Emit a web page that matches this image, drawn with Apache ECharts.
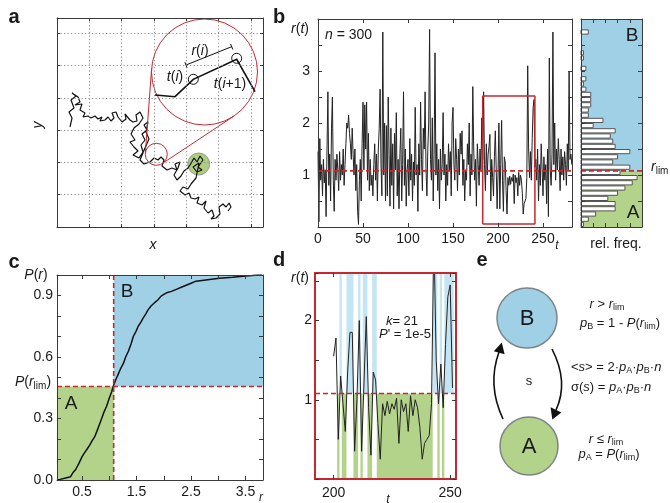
<!DOCTYPE html>
<html><head><meta charset="utf-8">
<script src="https://cdn.jsdelivr.net/npm/echarts@6/dist/echarts.min.js"></script>
<style>html,body{margin:0;padding:0;background:#fff}#c{width:670px;height:503px}</style>
</head><body><div id="c"></div>
<script>
// ---------------- data ----------------
// panel a: random walk (arbitrary position units)
const walkX = [13,15,12,17,14,19,15,21,23,18,25,23,28,26,31,34,38,41,45,43,48,51,54,57,55,59,61,65,69,68,73,76,80,79,83,86,82,77,74,78,73,77,81,76,82,86,84,88,85,90,87,91,89,92,88,83,87,93,97,101,104,107,105,110,115,120,118,123,121,117,120,124,127,131,133,137,140,143,146,141,145,140,136,142,139,134,131,126,123,128,132,134,138,142,140,145,149,147,151,155,157,154,159,163,162,166,169,172,174,171];
const walkY = [100,109,115,119,127,131,134,130,125,122,123,117,114,110,111,109,111,108,110,106,107,110,106,109,114,115,110,105,108,113,107,105,106,112,115,109,103,99,93,87,85,80,76,72,69,75,82,87,93,97,102,105,95,88,79,67,63,65,69,67,70,67,61,57,59,57,63,65,59,52,47,51,56,59,62,69,65,71,67,60,57,55,60,64,49,43,38,40,36,32,34,29,28,30,24,22,26,19,14,17,11,8,9,13,20,23,20,24,20,16];
const greenSpot = [141.7, 63, 11];          // [x, y, radius]
const lensSmall = [99.3, 72.7, 11];
const lensBig = [147.5, 155, 53];
const lensPathX = [98, 118, 136.3, 179.7, 198];
const lensPathY = [132, 130.3, 147.7, 167.7, 135.3];
const lensStepX = [136.3, 179.7];
const lensStepY = [147.7, 168.7];
const lensBracket = [[129, 162], [174.7, 180.3]];

// panel b: r(t)
const R_LIM = 1.08;
const rSeries = [
1.45,0.1,1.7,0.9,1.2,0.6,1.3,0.85,1.1,0.2,
1.5,2.6,0.8,1.4,0.5,1.9,2.5,0.9,0.3,1.3,
0.9,1.4,1.1,0.7,1.45,0.9,1.2,1.0,1.5,0.8,
1.2,1.6,2.0,1.9,2.15,1.8,1.6,1.3,1.9,1.4,
1.0,1.5,0.7,1.2,0.3,0.05,0.9,1.3,0.5,1.6,
2.4,1.1,2.35,1.5,2.4,0.9,1.8,0.7,1.3,0.8,
1.0,0.6,1.2,1.6,0.9,1.4,0.5,1.5,1.9,2.65,
1.2,0.6,3.75,1.0,2.0,0.5,1.95,0.6,2.5,1.4,
0.4,1.9,0.8,1.6,0.35,1.8,1.1,2.2,0.6,1.3,
0.35,1.4,1.9,0.5,1.2,2.6,0.8,1.5,0.4,1.1,
1.3,0.6,1.7,0.9,1.4,0.5,1.25,0.8,2.3,1.0,
1.2,0.3,1.6,1.0,2.4,1.3,0.7,1.9,1.5,2.6,
1.1,0.6,1.5,2.0,3.8,1.3,0.9,2.1,0.5,1.4,
3.35,1.0,1.6,0.7,1.3,0.35,1.5,0.9,1.2,2.2,
1.0,1.4,0.5,1.2,0.8,1.6,1.1,1.45,0.6,2.0,
2.3,1.2,0.9,1.7,1.3,0.7,1.5,1.0,1.8,1.4,
1.85,0.8,1.3,0.5,1.1,0.9,1.6,1.2,2.0,0.6,
1.4,1.0,2.7,1.5,0.9,1.3,0.4,1.6,1.2,0.8,
1.5,1.1,2.1,1.3,2.6,1.2,0.7,1.6,1.0,1.4,
1.55,1.78,0.5,1.3,0.95,0.6,1.35,1.85,1.85,0.35,
1.0,2.0,0.35,1.2,2.05,0.9,0.3,1.35,1.25,0.7,
0.25,0.95,0.8,0.98,0.82,0.95,0.88,1.02,0.45,1.0,
0.85,0.95,0.6,1.05,0.8,1.0,0.9,0.65,0.25,0.45,
0.5,0.55,0.95,3.1,1.5,0.95,1.45,0.9,1.7,2.3,
2.45,1.15,
1.3,0.9,1.5,0.5,1.2,0.8,1.6,1.1,0.6,1.35,
0.9,1.2,0.45,1.5,0.2,3.25,1.1,0.8,1.4,3.75,
1.2,2.0,0.9,1.5,1.1,1.7,1.3,0.7,1.5,1.0,
1.35,0.9,1.45,1.2,0.8,1.6,1.1,3.0,1.3,1.4,1.2];
const bXLabels = [0,50,100,150,200,250];
const bYLabels = [1,2,3];
const zoomT = [183, 241];
const zoomR = [0.06, 2.52];

// histogram of r (bins of 0.1 from 0)
const histBinWidth = 0.1;
const histCounts = [1,3,6,14,14,11,15,18,21,23,16,20,13,15,20,14,13,12,14,5,9,3,3,4,4,4,2,1,2,0,2,0,1,1,0,0,0,3,0,0];

// panel c: cumulative distribution
const P_LIM = 0.456;
const cdfR = [0.04,0.1,0.2,0.29,0.33,0.38,0.44,0.5,0.55,0.59,0.64,0.68,0.73,0.77,0.81,0.86,0.9,0.95,1.0,1.045,1.07,1.12,1.17,1.21,1.26,1.3,1.35,1.4,1.44,1.49,1.53,1.58,1.62,1.67,1.71,1.77,1.83,1.89,1.95,2.0,2.05,2.14,2.23,2.32,2.41,2.5,2.59,2.77,3.02,3.26,3.5,3.62,3.74,3.8];
const cdfP = [0,0.003,0.01,0.016,0.035,0.05,0.08,0.114,0.135,0.15,0.17,0.19,0.21,0.236,0.265,0.30,0.33,0.36,0.40,0.432,0.456,0.49,0.52,0.545,0.57,0.60,0.628,0.665,0.70,0.725,0.75,0.77,0.79,0.81,0.83,0.85,0.865,0.878,0.897,0.905,0.913,0.92,0.93,0.94,0.95,0.96,0.97,0.976,0.984,0.989,0.995,0.997,1.0,1.0];
const cXTicks = [0.5,1,1.5,2,2.5,3,3.5];
const cXLabels = [0.5,1.5,2.5,3.5];
const cYLabels = [0.0,0.3,0.6,0.9];

// panel d: zoom window
const dT0 = 200;
const STRIPE_FROM = 202;
const dSeries = [1.55,1.78,0.5,1.3,0.95,0.6,1.35,1.85,1.85,0.35,1.0,2.0,0.35,1.2,2.05,0.9,0.3,1.35,1.25,0.7,0.25,0.95,0.8,0.98,0.82,0.95,0.88,1.02,0.45,1.0,0.85,0.95,0.6,1.05,0.8,1.0,0.9,0.65,0.25,0.45,0.5,0.55,0.95,3.1,1.5,0.95,1.45,0.9,1.7,2.3,2.45,1.15];
const dXLabels = [200, 250];
const dYLabels = [1, 2];

// ---------------- style ----------------
const F = 'Liberation Sans';
const TXT = '#1a1a1a';
const AXC = '#3a3a3a';
const RED = '#c62830';
const BLUE = '#9fd0e6';
const LBLUE = '#c4e5f3';
const GREEN = '#b4d38a';

const A_X = [0, 206], A_Y = [0, 209], A_INT = 32.3;
const B_X = [0, 282.2], Y4 = [0, 4];
const H_X = [0, 25];
const C_X = [0.04, 3.82], C_Y = [0, 1];
const D_X = [192, 252.5], D_Y = [0, 2.6];

function axisPair(g, kind, o) {
  const mk = (pos, main) => {
    const a = {
      type:'value', gridIndex:g, position:pos, min:o.range[0], max:o.range[1], z:10,
      axisLine:{show:true, onZero:false, lineStyle:{color:o.lc||AXC, width:o.lw||1}},
      axisTick:{show:true, inside:true, length:o.tl||4, lineStyle:{color:AXC, width:1}},
      axisLabel:{show:false},
      splitLine:{show:false}
    };
    if (o.interval != null) a.interval = o.interval;
    if (o.ticks) a.axisTick.customValues = o.ticks;
    if (main && o.label) a.axisLabel = Object.assign({show:true, color:TXT, fontSize:14, fontFamily:F, margin:o.margin||5, showMinLabel:true, showMaxLabel:true}, o.label);
    if (main && o.split) a.splitLine = {show:true, lineStyle:o.split};
    return a;
  };
  return kind === 'x' ? [mk('bottom', true), mk('top', false)] : [mk('left', true), mk('right', false)];
}
const dots = {color:'#8c8c8c', width:1, type:[1.2,2.3]};
const xAxes = [].concat(
  axisPair(0,'x',{range:A_X, interval:A_INT, split:dots, tl:3}),
  axisPair(1,'x',{range:B_X, interval:50, label:{customValues:bXLabels}}),
  axisPair(2,'x',{range:H_X, interval:5}),
  axisPair(3,'x',{range:C_X, ticks:cXTicks, label:{customValues:cXLabels}}),
  axisPair(4,'x',{range:D_X, ticks:dXLabels, lc:RED, lw:2, margin:7, label:{customValues:dXLabels}})
);
const yAxes = [].concat(
  axisPair(0,'y',{range:A_Y, interval:A_INT, split:dots, tl:3}),
  axisPair(1,'y',{range:Y4, interval:0.5, margin:8, label:{customValues:bYLabels}}),
  axisPair(2,'y',{range:Y4, interval:0.5}),
  axisPair(3,'y',{range:C_Y, interval:0.1, margin:4, label:{customValues:cYLabels, formatter:v=>v.toFixed(1)}}),
  axisPair(4,'y',{range:D_Y, interval:0.5, lc:RED, lw:2, margin:3, label:{customValues:dYLabels}})
);
const grids = [
  {left:57, top:18, width:206, height:209},
  {left:318, top:19, width:254, height:208},
  {left:581, top:19, width:61, height:208},
  {left:57, top:275, width:206, height:205},
  {left:315, top:273, width:141, height:206}
].map(g => Object.assign({containLabel:false, outerBoundsMode:'none', show:false}, g));

function rectRender(params, api) {
  const p0 = api.coord([api.value(0), api.value(1)]);
  const p1 = api.coord([api.value(2), api.value(3)]);
  return {type:'rect', shape:{x:Math.min(p0[0],p1[0]), y:Math.min(p0[1],p1[1]), width:Math.abs(p1[0]-p0[0]), height:Math.abs(p1[1]-p0[1])},
    style:{fill: api.visual('color')}};
}
function on(g) { return {xAxisIndex:2*g, yAxisIndex:2*g}; }
function dashLine(g, pts) {
  return Object.assign({type:'line', data:pts, symbol:'none', z:6, silent:true,
    lineStyle:{color:RED, width:1.6, type:[5,3]}}, on(g));
}
function tangents(c1, r1, c2, r2) {
  const dx=c2[0]-c1[0], dy=c2[1]-c1[1], d=Math.hypot(dx,dy), ux=dx/d, uy=dy/d;
  const s=(r2-r1)/d, h=Math.sqrt(1-s*s), res=[];
  [1,-1].forEach(sg => {
    const nx=-s*ux-sg*h*uy, ny=-s*uy+sg*h*ux;
    res.push([[c1[0]+r1*nx, c1[1]+r1*ny],[c2[0]+r2*nx, c2[1]+r2*ny]]);
  });
  return res;
}
function mkRich(fs) {
  const sub = Math.round(fs*0.72);
  return {
    n:{fontSize:fs, fontFamily:F, fill:TXT, color:TXT},
    i:{fontSize:fs, fontFamily:F, fontStyle:'italic', fill:TXT, color:TXT},
    s:{fontSize:sub, fontFamily:F, fill:TXT, color:TXT, padding:[Math.round(fs*0.55),0,0,0]}
  };
}
const R14 = mkRich(14), R13 = mkRich(13);

// runs of consecutive points on the same side of r_lim (panel d stripes)
const dRuns = [];
dSeries.forEach((v, i) => {
  const t = dT0 + i;
  if (t < STRIPE_FROM) return;
  const up = v > R_LIM;
  const last = dRuns[dRuns.length - 1];
  if (last && last.up === up && last.t1 === t - 1) last.t1 = t;
  else dRuns.push({up:up, t0:t, t1:t});
});

const series = [];
// panel a
series.push(Object.assign({type:'custom', z:2, silent:true, data:[[0,0]],
  renderItem:(p, api) => {
    const c = api.coord([greenSpot[0], greenSpot[1]]);
    const r = api.size([greenSpot[2], 0])[0];
    return {type:'circle', shape:{cx:c[0], cy:c[1], r:r}, style:{fill:'rgba(160,198,105,0.85)', stroke:'#9a9a9a', lineWidth:1}};
  }}, on(0)));
series.push(Object.assign({type:'line', z:3, symbol:'none', silent:true,
  data: walkX.map((x,i)=>[x, walkY[i]]), lineStyle:{color:'#111', width:1.2}}, on(0)));
series.push(Object.assign({type:'custom', z:5, silent:true, data:[[0,0]],
  renderItem:(p, api) => {
    const cs = api.coord([lensSmall[0], lensSmall[1]]), rs = api.size([lensSmall[2],0])[0];
    const cb = api.coord([lensBig[0], lensBig[1]]), rb = api.size([lensBig[2],0])[0];
    const kids = [];
    kids.push({type:'circle', shape:{cx:cb[0], cy:cb[1], r:rb}, style:{fill:null, stroke:RED, lineWidth:1}});
    kids.push({type:'circle', shape:{cx:cs[0], cy:cs[1], r:rs}, style:{fill:null, stroke:RED, lineWidth:1}});
    tangents(cs, rs, cb, rb).forEach(t => kids.push({type:'line', shape:{x1:t[0][0], y1:t[0][1], x2:t[1][0], y2:t[1][1]}, style:{stroke:RED, lineWidth:1}}));
    kids.push({type:'polyline', shape:{points: lensPathX.map((x,i)=>api.coord([x, lensPathY[i]]))}, style:{fill:null, stroke:'#111', lineWidth:1.6}});
    lensStepX.forEach((x,i) => { const c = api.coord([x, lensStepY[i]]);
      kids.push({type:'circle', shape:{cx:c[0], cy:c[1], r:api.size([5,0])[0]}, style:{fill:null, stroke:'#111', lineWidth:1}}); });
    const b0 = api.coord(lensBracket[0]), b1 = api.coord(lensBracket[1]);
    const bx=b1[0]-b0[0], by=b1[1]-b0[1], bl=Math.hypot(bx,by), px=-by/bl*3, py=bx/bl*3;
    kids.push({type:'line', shape:{x1:b0[0], y1:b0[1], x2:b1[0], y2:b1[1]}, style:{stroke:'#111', lineWidth:1}});
    [b0,b1].forEach(b => kids.push({type:'line', shape:{x1:b[0]-px, y1:b[1]-py, x2:b[0]+px, y2:b[1]+py}, style:{stroke:'#111', lineWidth:1}}));
    const lab = (xy, text) => { const c = api.coord(xy);
      kids.push({type:'text', style:{text:text, x:c[0], y:c[1], align:'center', verticalAlign:'middle', fontSize:14, fontFamily:F, fill:TXT, rich:R14}}); };
    lab([143,176], '{i|r}{n|(}{i|i}{n|)}');
    lab([118,149.5], '{i|t}{n|(}{i|i}{n|)}');
    lab([173,143], '{i|t}{n|(}{i|i}{n|+1)}');
    return {type:'group', children:kids};
  }}, on(0)));

// panel b
series.push(Object.assign({type:'line', z:3, symbol:'none', silent:true,
  data: rSeries.map((v,i)=>[i, v]), lineStyle:{color:'#222', width:1}}, on(1)));
series.push(dashLine(1, [[B_X[0], R_LIM],[B_X[1], R_LIM]]));
series.push(Object.assign({type:'line', z:7, symbol:'none', silent:true,
  data:[[zoomT[0],zoomR[0]],[zoomT[1],zoomR[0]],[zoomT[1],zoomR[1]],[zoomT[0],zoomR[1]],[zoomT[0],zoomR[0]]],
  lineStyle:{color:RED, width:1.5}}, on(1)));

// histogram
series.push(Object.assign({type:'custom', z:1, silent:true, renderItem:rectRender,
  data:[{value:[H_X[0],0,H_X[1],R_LIM], itemStyle:{color:GREEN}}, {value:[H_X[0],R_LIM,H_X[1],Y4[1]], itemStyle:{color:BLUE}}]}, on(2)));
series.push(Object.assign({type:'custom', z:3, silent:true,
  data: histCounts.map((c,k)=>[c, k*histBinWidth, (k+1)*histBinWidth]),
  renderItem:(p, api) => {
    const c = api.value(0); if (!c) return null;
    const p0 = api.coord([0, api.value(1)]), p1 = api.coord([c, api.value(2)]);
    return {type:'rect', shape:{x:p0[0], y:p1[1]+0.5, width:p1[0]-p0[0], height:p0[1]-p1[1]-1},
      style:{fill:'#fff', stroke:'#555', lineWidth:1}};
  }}, on(2)));
series.push(dashLine(2, [[H_X[0], R_LIM],[H_X[1], R_LIM]]));

// panel c
series.push(Object.assign({type:'custom', z:1, silent:true, renderItem:rectRender,
  data:[{value:[C_X[0],0,R_LIM,P_LIM], itemStyle:{color:GREEN}}, {value:[R_LIM,P_LIM,C_X[1],C_Y[1]], itemStyle:{color:BLUE}}]}, on(3)));
series.push(Object.assign({type:'line', z:4, symbol:'none', silent:true,
  data: cdfR.map((r,i)=>[r, cdfP[i]]), lineStyle:{color:'#111', width:1.5}}, on(3)));
series.push(dashLine(3, [[R_LIM, C_Y[0]],[R_LIM, C_Y[1]]]));
series.push(dashLine(3, [[C_X[0], P_LIM],[C_X[1], P_LIM]]));

// panel d
series.push(Object.assign({type:'custom', z:1, silent:true, renderItem:rectRender,
  data: dRuns.map(r => ({value:[r.t0-0.5, r.up?R_LIM:D_Y[0], r.t1+0.5, r.up?D_Y[1]:R_LIM], itemStyle:{color: r.up?LBLUE:GREEN}}))}, on(4)));
series.push(Object.assign({type:'line', z:4, symbol:'none', silent:true,
  data: dSeries.map((v,i)=>[dT0+i, v]), lineStyle:{color:'#222', width:1}}, on(4)));
series.push(dashLine(4, [[D_X[0], R_LIM],[D_X[1], R_LIM]]));

// ---------------- text & diagram ----------------
const G = [];
function txt(x, y, text, o) {
  o = o || {};
  G.push({type:'text', x:x, y:y, rotation:o.rot||0, z:100, silent:true,
    style:{text:text, x:0, y:0, align:o.align||'center', verticalAlign:'middle', textAlign:o.align||'center', textVerticalAlign:'middle',
      fontSize:o.fs||14, fontFamily:F, fontStyle:o.it?'italic':'normal', fontWeight:o.bold?'bold':'normal', fill:TXT, rich:o.rich}});
}
txt(14,17,'a',{fs:20,bold:true}); txt(279,17,'b',{fs:20,bold:true});
txt(14,262,'c',{fs:20,bold:true}); txt(279,260,'d',{fs:20,bold:true}); txt(482,260,'e',{fs:20,bold:true});
txt(153,245,'x',{it:true}); txt(38,125,'y',{it:true, rot:Math.PI/2});
txt(300,29,'{i|r}{n|(}{i|t}{n|)}',{rich:R14});
txt(325,35,'{i|n}{n| = 300}',{rich:R14, align:'left'});
txt(557,246,'t',{it:true, fs:12});
txt(616,244,'rel. freq.');
txt(651,167,'{i|r}{s|lim}',{rich:R14, align:'left'});
txt(632,36,'B',{fs:19}); txt(633,213,'A',{fs:19});
txt(36,275,'{i|P}{n|(}{i|r}{n|)}',{rich:R14});
txt(33,382,'{i|P}{n|(}{i|r}{s|lim}{n|)}',{rich:R14});
txt(71,404,'A',{fs:19}); txt(127,292,'B',{fs:19});
txt(261,498,'r',{it:true, fs:12});
txt(300,278,'{i|r}{n|(}{i|t}{n|)}',{rich:R14});
txt(388,500,'t',{it:true, fs:12});
txt(402,321,'{i|k}{n|= 21}',{rich:R13});
txt(405,334,"{i|P}{n|' = 1e-5}",{rich:R13});
// diagram e
G.push({type:'circle', z:50, silent:true, shape:{cx:527, cy:318, r:30}, style:{fill:BLUE, stroke:'#7d8488', lineWidth:1.5}});
G.push({type:'circle', z:50, silent:true, shape:{cx:529, cy:446, r:29}, style:{fill:GREEN, stroke:'#7d8488', lineWidth:1.5}});
txt(527,319,'B',{fs:22}); txt(529,447,'A',{fs:22});
G.push({type:'bezierCurve', z:50, silent:true, shape:{x1:503, y1:419, cpx1:487, cpy1:385, x2:499, y2:352}, style:{fill:null, stroke:'#111', lineWidth:1.6}});
G.push({type:'polygon', z:50, silent:true, shape:{points:[[501.8,342.5],[493.8,351.3],[504.6,354.2]]}, style:{fill:'#111'}});
G.push({type:'bezierCurve', z:50, silent:true, shape:{x1:552, y1:349, cpx1:569, cpy1:382, x2:556, y2:410}, style:{fill:null, stroke:'#111', lineWidth:1.6}});
G.push({type:'polygon', z:50, silent:true, shape:{points:[[552.3,419.5],[550.6,407.2],[561.4,412.4]]}, style:{fill:'#111'}});
txt(529,381,'s',{fs:13});
txt(607,304,'{i|r}{n| > }{i|r}{s|lim}',{rich:R13});
txt(620,323,'{i|p}{s|B}{n| = 1 - }{i|P}{n|(}{i|r}{s|lim}{n|)}',{rich:R13});
txt(571,367,'{n|<}{i|s}{n|> = 2·}{i|p}{s|A}{n|·}{i|p}{s|B}{n|·}{i|n}',{rich:R13, align:'left'});
txt(571,387,'{n|σ(}{i|s}{n|) = }{i|p}{s|A}{n|·}{i|p}{s|B}{n|·}{i|n}',{rich:R13, align:'left'});
txt(606,439,'{i|r}{n| ≤ }{i|r}{s|lim}',{rich:R13});
txt(609,454,'{i|p}{s|A}{n| = }{i|P}{n|(}{i|r}{s|lim}{n|)}',{rich:R13});

const chart = echarts.init(document.getElementById('c'), null, {renderer:'canvas'});
chart.setOption({
  animation:false,
  backgroundColor:'#fff',
  textStyle:{fontFamily:F},
  grid:grids, xAxis:xAxes, yAxis:yAxes, series:series, graphic:{elements:G}
});
</script></body></html>
